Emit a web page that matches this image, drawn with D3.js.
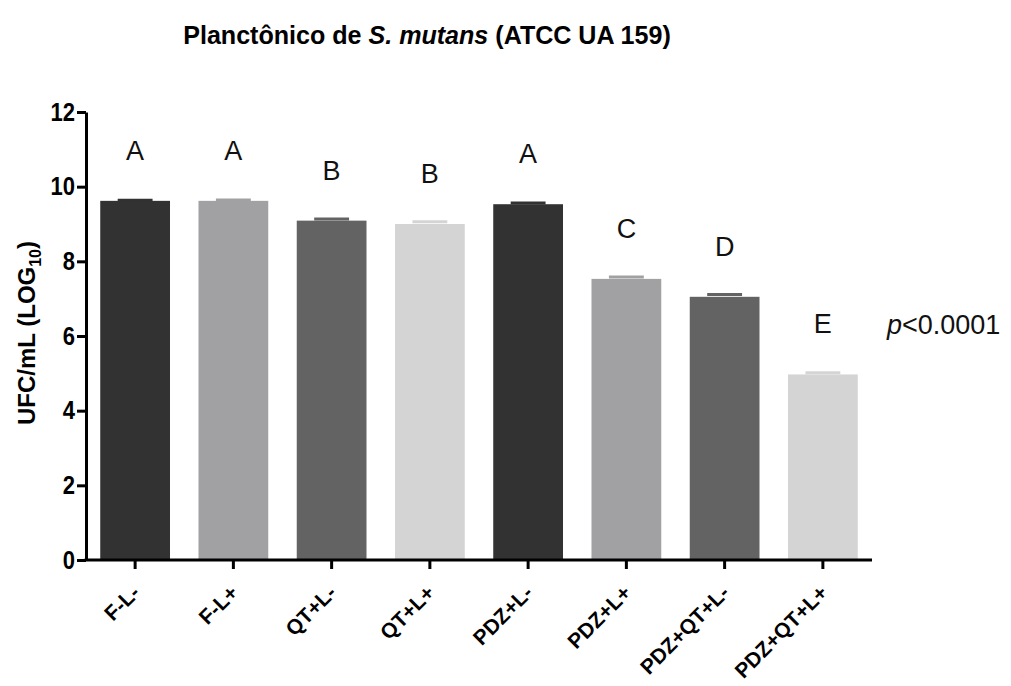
<!DOCTYPE html>
<html>
<head>
<meta charset="utf-8">
<script src="https://cdn.jsdelivr.net/npm/d3@7"></script>
<style>
  body { margin: 0; background: #fff; }
  text { font-family: "Liberation Sans", Arial, sans-serif; }
</style>
</head>
<body>
<script>
// data
var groups = ["F-L-", "F-L+", "QT+L-", "QT+L+", "PDZ+L-", "PDZ+L+", "PDZ+QT+L-", "PDZ+QT+L+"];
var means = [9.62, 9.62, 9.09, 9.0, 9.53, 7.53, 7.05, 4.97];
var errors = [0.04, 0.05, 0.07, 0.09, 0.06, 0.08, 0.09, 0.07];
var letters = ["A", "A", "B", "B", "A", "C", "D", "E"];
var colors = ["#323232", "#a1a1a4", "#636363", "#d4d4d4", "#323232", "#a1a1a4", "#636363", "#d4d4d4"];
var yTicks = [0, 2, 4, 6, 8, 10, 12];

function init() {
    var w = 1011;
    var h = 686;
    var left = 86, right = 872, top = 112, bottom = 560;

    var svg = d3.select("body")
                .append("svg")
                .attr("width", w)
                .attr("height", h);

    var xScale = d3.scaleBand()
                   .domain(groups)
                   .range([left, right])
                   .paddingInner(0.29)
                   .paddingOuter(0.145);

    var yScale = d3.scaleLinear()
                   .domain([0, 12])
                   .range([bottom, top]);

    // bars
    svg.selectAll("rect.bar")
        .data(groups)
        .enter()
        .append("rect")
        .attr("class", "bar")
        .attr("x", function (d) { return xScale(d); })
        .attr("y", function (d, i) { return yScale(means[i]); })
        .attr("width", xScale.bandwidth())
        .attr("height", function (d, i) { return bottom - yScale(means[i]); })
        .attr("fill", function (d, i) { return colors[i]; });

    // error caps (SEM, same colour as bar)
    svg.selectAll("line.cap")
        .data(groups)
        .enter()
        .append("line")
        .attr("class", "cap")
        .attr("x1", function (d) { return xScale(d) + xScale.bandwidth() * 0.25; })
        .attr("x2", function (d) { return xScale(d) + xScale.bandwidth() * 0.75; })
        .attr("y1", function (d, i) { return yScale(means[i] + errors[i]) + 1; })
        .attr("y2", function (d, i) { return yScale(means[i] + errors[i]) + 1; })
        .attr("stroke", function (d, i) { return colors[i]; })
        .attr("stroke-width", 3);

    // significance letters
    svg.selectAll("text.letter")
        .data(groups)
        .enter()
        .append("text")
        .attr("class", "letter")
        .attr("x", function (d) { return xScale(d) + xScale.bandwidth() / 2; })
        .attr("y", function (d, i) { return yScale(means[i]) - 41; })
        .attr("text-anchor", "middle")
        .attr("font-size", "27px")
        .attr("fill", "#111")
        .text(function (d, i) { return letters[i]; });

    // x axis
    var xAxis = d3.axisBottom(xScale).tickSize(9).tickSizeOuter(0);
    var gx = svg.append("g")
        .attr("class", "x axis")
        .attr("transform", "translate(0," + bottom + ")")
        .call(xAxis);
    gx.select(".domain").attr("stroke", "#000").attr("stroke-width", 3)
        .attr("d", "M" + (left - 1.5) + ",0H" + right);
    gx.selectAll(".tick line").attr("stroke-width", 3);
    gx.selectAll(".tick text")
        .attr("font-size", "21px")
        .attr("font-weight", "bold")
        .attr("fill", "#000")
        .attr("text-anchor", "end")
        .attr("dy", null)
        .attr("transform", "translate(6,34) rotate(-45)")
        .attr("y", 0)
        .attr("x", 0);

    // y axis
    var yAxis = d3.axisLeft(yScale).tickValues(yTicks).tickSize(9).tickSizeOuter(0);
    var gy = svg.append("g")
        .attr("class", "y axis")
        .attr("transform", "translate(" + left + ",0)")
        .call(yAxis);
    gy.select(".domain").attr("stroke", "#000").attr("stroke-width", 3);
    gy.selectAll(".tick line").attr("stroke-width", 3);
    gy.selectAll(".tick text")
        .attr("font-size", "22px")
        .attr("font-weight", "bold")
        .attr("fill", "#000")
        .attr("transform", "scale(1,1.15)")
        .attr("x", -11);

    // y label
    var yl = svg.append("text")
        .attr("transform", "translate(35,333) rotate(-90)")
        .attr("text-anchor", "middle")
        .attr("font-size", "24px")
        .attr("font-weight", "bold")
        .attr("fill", "#000");
    yl.append("tspan").text("UFC/mL (LOG");
    yl.append("tspan").attr("font-size", "16px").attr("dy", 6).text("10");
    yl.append("tspan").attr("dy", -6).text(")");

    // title
    var t = svg.append("text")
        .attr("transform", "translate(427,44) scale(0.965,1)")
        .attr("text-anchor", "middle")
        .attr("font-size", "26px")
        .attr("font-weight", "bold")
        .attr("fill", "#000");
    t.append("tspan").text("Planctônico de ");
    t.append("tspan").attr("font-style", "italic").text("S. mutans");
    t.append("tspan").text(" (ATCC UA 159)");

    // p value
    var p = svg.append("text")
        .attr("x", 887)
        .attr("y", 334)
        .attr("font-size", "27px")
        .attr("fill", "#111");
    p.append("tspan").attr("font-style", "italic").text("p");
    p.append("tspan").text("<0.0001");
}

window.onload = init;
</script>
</body>
</html>
